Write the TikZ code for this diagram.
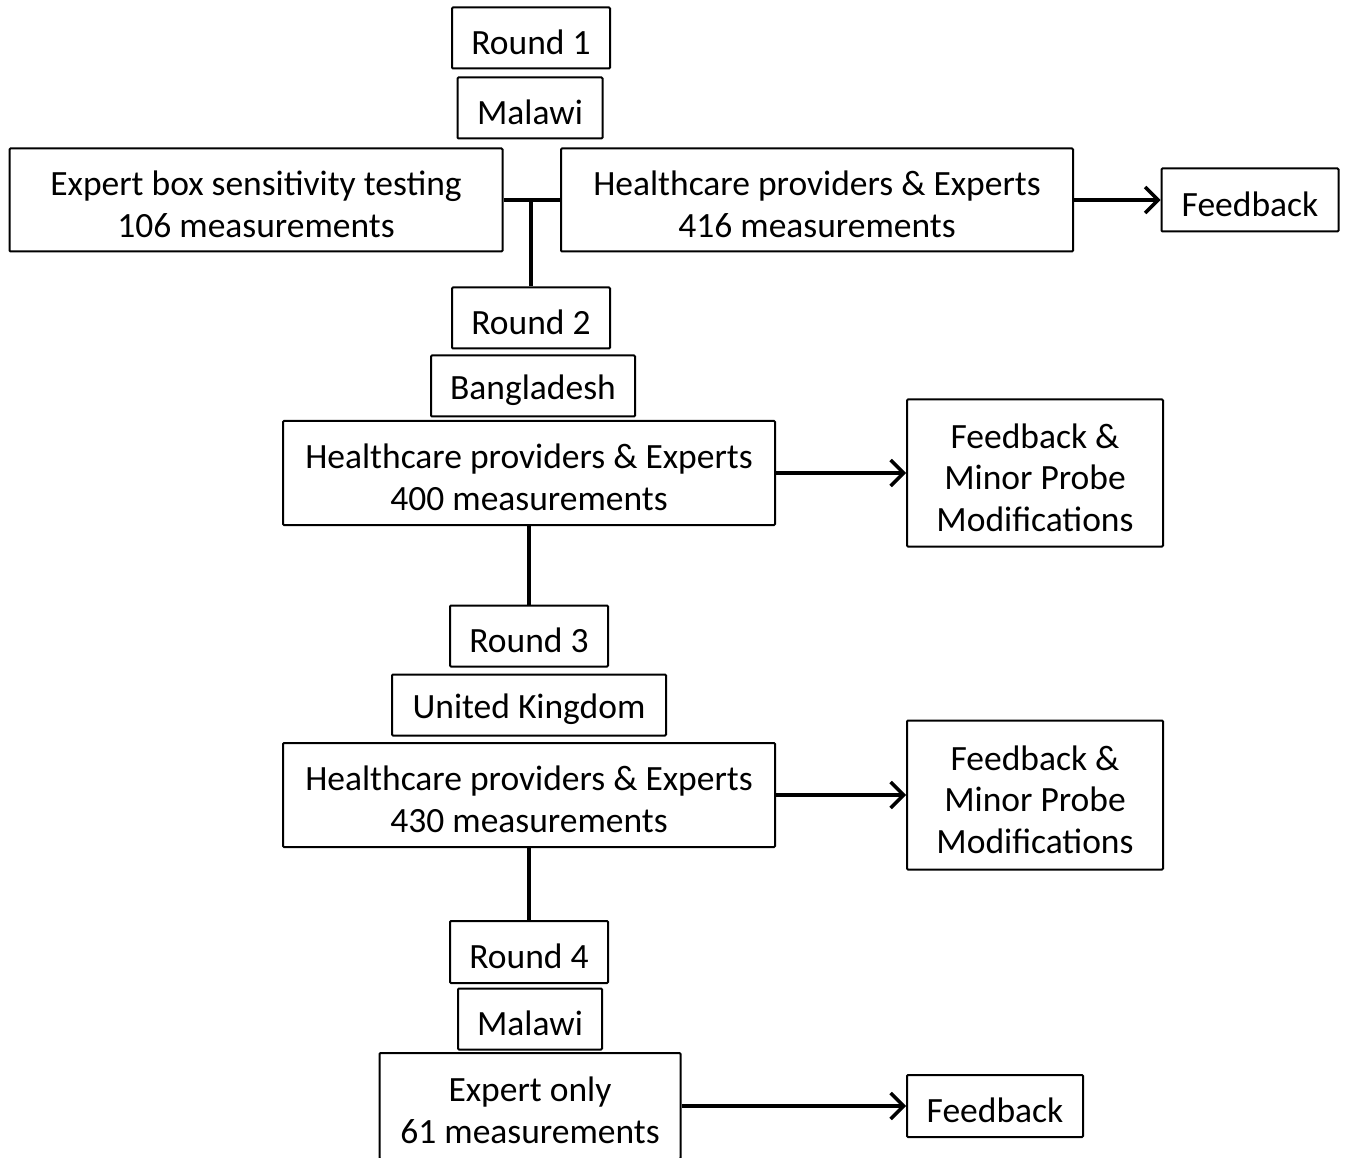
\documentclass[tikz,border=0pt]{standalone}
\usepackage{fontspec}
\setmainfont{Carlito}
\usepackage{tikz}
\usetikzlibrary{arrows.meta}

\newcommand{\lift}{\rule{0pt}{0.95em}}

\tikzset{
  box/.style={draw,line width=2pt,rounded corners=1pt,inner sep=0pt,
    align=center,font=\fontsize{35.5}{41.5}\selectfont,
    execute at begin node={\lift}},
  link/.style={line width=3.4pt},
  arr/.style={line width=3.4pt,-{Straight Barb[length=13pt,width=26pt,line width=3.4pt]}}
}

\begin{document}
\begin{tikzpicture}[x=1pt,y=-1pt]
  \useasboundingbox (0,0) rectangle (1345,1158);
  % round 1
  \node[box,minimum width=158,minimum height=61] (r1) at (531,38) {Round 1};
  \node[box,minimum width=145,minimum height=61] (m1) at (530,108) {Malawi};
  \node[box,minimum width=493,minimum height=103] (exp) at (256,200)
    {\lift Expert box sensitivity testing\\106 measurements};
  \node[box,minimum width=512,minimum height=103] (hp1) at (817,200)
    {\lift Healthcare providers \& Experts\\416 measurements};
  \node[box,minimum width=177,minimum height=63] (fb1) at (1250,200) {Feedback};
  \coordinate (j1) at (531,200);
  \draw[link] (exp.east) -- (hp1.west);
  \draw[arr] (hp1.east) -- (fb1.west);
  % round 2
  \node[box,minimum width=158,minimum height=61] (r2) at (531,318) {Round 2};
  \node[box,minimum width=204,minimum height=61] (bd) at (533,386) {Bangladesh};
  \node[box,minimum width=492,minimum height=104] (hp2) at (529,473)
    {\lift Healthcare providers \& Experts\\400 measurements};
  \node[box,minimum width=256,minimum height=147] (fb2) at (1035,473)
    {\lift Feedback \&\\Minor Probe\\Modifications};
  \draw[link] (j1) -- (r2.north);
  \draw[arr] (hp2.east) -- (fb2.west);
  % round 3
  \node[box,minimum width=158,minimum height=61] (r3) at (529,636) {Round 3};
  \node[box,minimum width=274,minimum height=61] (uk) at (529,705) {United Kingdom};
  \node[box,minimum width=492,minimum height=104] (hp3) at (529,795)
    {\lift Healthcare providers \& Experts\\430 measurements};
  \node[box,minimum width=256,minimum height=149] (fb3) at (1035,795)
    {\lift Feedback \&\\Minor Probe\\Modifications};
  \draw[link] (hp2.south) -- (r3.north);
  \draw[arr] (hp3.east) -- (fb3.west);
  % round 4
  \node[box,minimum width=158,minimum height=62] (r4) at (529,952) {Round 4};
  \node[box,minimum width=144,minimum height=61] (m4) at (530,1019) {Malawi};
  \node[box,minimum width=301,minimum height=106] (exo) at (530,1106)
    {\lift Expert only\\61 measurements};
  \node[box,minimum width=176,minimum height=62] (fb4) at (995,1106) {Feedback};
  \draw[link] (hp3.south) -- (r4.north);
  \draw[arr] (exo.east) -- (fb4.west);
\end{tikzpicture}
\end{document}
